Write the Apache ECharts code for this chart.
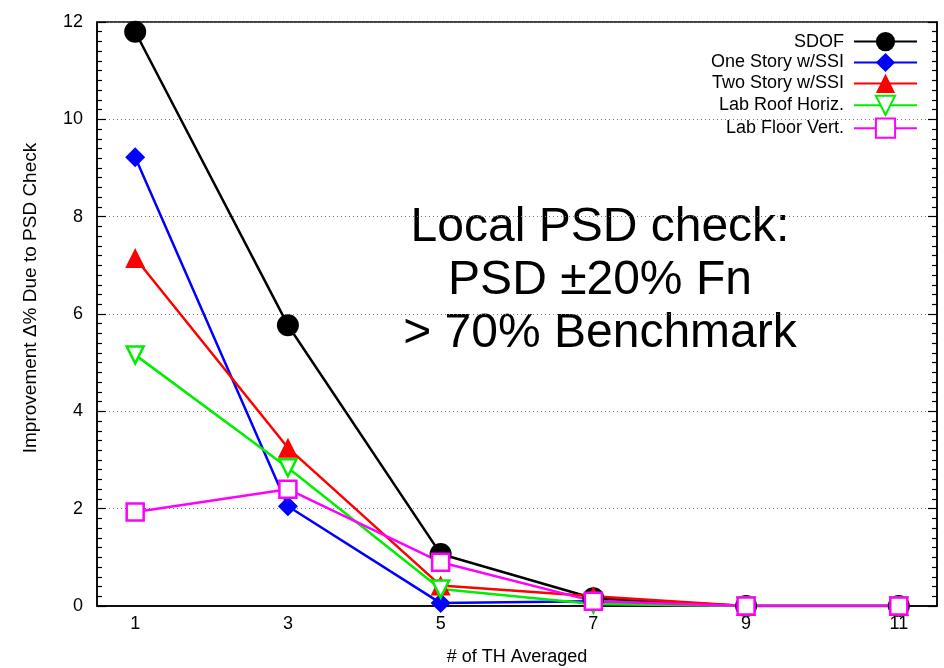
<!DOCTYPE html>
<html>
<head>
<meta charset="utf-8">
<script src="https://cdn.jsdelivr.net/npm/echarts@6/dist/echarts.min.js"></script>
<style>
html,body{margin:0;padding:0;background:#fff;}
#main{width:944px;height:668px;}
</style>
</head>
<body>
<div id="main"></div>
<script>
var xCategories = ['1', '2', '3', '4', '5', '6', '7', '8', '9', '10', '11'];
var xValues = ['1', '3', '5', '7', '9', '11'];
var seriesNames = ['SDOF', 'One Story w/SSI', 'Two Story w/SSI', 'Lab Roof Horiz.', 'Lab Floor Vert.'];
var sdof = [11.8, 5.77, 1.07, 0.16, 0, 0];
var oneStory = [9.22, 2.05, 0.06, 0.1, 0, 0];
var twoStory = [7.15, 3.25, 0.42, 0.2, 0, 0];
var labRoof = [5.16, 2.84, 0.35, 0.04, 0, 0];
var labFloor = [1.93, 2.4, 0.9, 0.1, 0, 0];

function pairs(vals) { return xValues.map(function (x, i) { return [x, vals[i]]; }); }

var FONT = 'Liberation Sans, Arial, sans-serif';
var chart = echarts.init(document.getElementById('main'), null, {renderer: 'canvas'});

function mkSeries(name, vals, color, symbol, size, hollow) {
  return {
    name: name, type: 'line', data: pairs(vals),
    symbol: symbol, symbolSize: size,
    showAllSymbol: true,
    lineStyle: {color: color, width: 2.5, type: 'solid'},
    itemStyle: hollow ? {color: '#fff', borderColor: color, borderWidth: 2.5} : {color: color, borderWidth: 0},
    emphasis: {disabled: true},
    animation: false
  };
}

var option = {
  animation: false,
  backgroundColor: '#fff',
  grid: {left: 97, right: 7, top: 22, bottom: 62, outerBoundsMode: 'none', containLabel: false,
         show: true, borderColor: '#000', borderWidth: 1.5, backgroundColor: 'transparent', z: 0},
  xAxis: [{
    type: 'category', data: xCategories, boundaryGap: true,
    name: '# of TH Averaged', nameLocation: 'middle', nameGap: 42,
    nameTextStyle: {fontFamily: FONT, fontSize: 18, color: '#000'},
    axisLine: {lineStyle: {color: '#000', width: 1.5}},
    axisTick: {inside: true, length: 9, alignWithLabel: true, interval: 1, lineStyle: {color: '#000', width: 1.2}},
    axisLabel: {interval: 1, fontFamily: FONT, fontSize: 18, color: '#000', margin: 9},
    splitLine: {show: false}
  }, {
    type: 'category', data: xCategories, boundaryGap: true, position: 'top',
    axisLine: {show: false},
    axisTick: {inside: true, length: 9, alignWithLabel: true, interval: 1, lineStyle: {color: '#000', width: 1.2}},
    axisLabel: {show: false},
    splitLine: {show: false}
  }],
  yAxis: [{
    type: 'value', min: 0, max: 12, interval: 2,
    name: 'Improvement Δ% Due to PSD Check', nameLocation: 'middle', nameGap: 57,
    nameTextStyle: {fontFamily: FONT, fontSize: 19, color: '#000', padding: [0, 0, 0, 32]},
    axisLine: {show: true, lineStyle: {color: '#000', width: 1.5}},
    axisTick: {show: true, inside: true, length: 9, lineStyle: {color: '#000', width: 1.2}},
    minorTick: {show: true, splitNumber: 10, length: 5, lineStyle: {color: '#000', width: 1.2}},
    axisLabel: {fontFamily: FONT, fontSize: 18, color: '#000', margin: 14},
    splitLine: {show: true, lineStyle: {color: '#777', width: 1, type: [1, 3]}}
  }, {
    type: 'value', min: 0, max: 12, interval: 2, position: 'right',
    axisLine: {show: true, lineStyle: {color: '#000', width: 1.5}},
    axisTick: {show: true, inside: true, length: 9, lineStyle: {color: '#000', width: 1.2}},
    minorTick: {show: true, splitNumber: 10, length: 5, lineStyle: {color: '#000', width: 1.2}},
    axisLabel: {show: false},
    splitLine: {show: false}
  }],
  legend: {
    orient: 'vertical', right: 21, top: 27, align: 'right',
    itemWidth: 63, itemHeight: 24, itemGap: 1.7,
    textStyle: {fontFamily: FONT, fontSize: 18, color: '#000', lineHeight: 18},
    formatter: function (n) { return n + ' '; },
    data: seriesNames,
    selectedMode: false
  },
  graphic: [{
    type: 'text', x: 600, y: 201, silent: true,
    style: {
      text: 'Local PSD check:\nPSD ±20% Fn\n> 70% Benchmark',
      font: '48px Liberation Sans, Arial, sans-serif',
      fill: '#000', align: 'center', textAlign: 'center', verticalAlign: 'top', lineHeight: 53
    }
  }],
  series: [
    mkSeries(seriesNames[0], sdof, '#000000', 'circle', 22, false),
    mkSeries(seriesNames[1], oneStory, '#0000ff', 'diamond', 20, false),
    mkSeries(seriesNames[2], twoStory, '#ff0000', 'triangle', 20, false),
    mkSeries(seriesNames[3], labRoof, '#00ee00', 'path://M0,0 L10,0 L5,9 Z', 17, true),
    mkSeries(seriesNames[4], labFloor, '#ff00ff', 'rect', 17, true)
  ]
};
chart.setOption(option);
</script>
</body>
</html>
